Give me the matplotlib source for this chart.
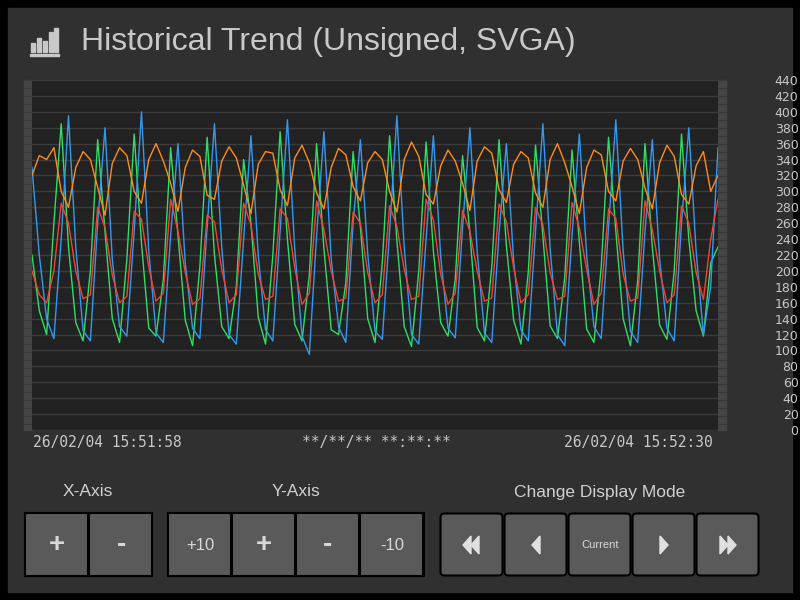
import matplotlib
matplotlib.use("Agg")
import matplotlib.pyplot as plt
from matplotlib.patches import Rectangle, FancyBboxPatch, Polygon

W, H = 800, 600

# trend samples, 5 per cycle, 19 cycles
green = [220, 150, 120, 260, 385, 230, 135, 112, 200, 365, 250, 140, 110, 215, 372,
         235, 128, 118, 190, 355, 245, 138, 106, 205, 368, 220, 130, 115, 180, 340,
         260, 142, 108, 220, 375, 240, 133, 112, 195, 360, 228, 126, 120, 185, 350,
         255, 140, 110, 210, 370, 238, 130, 105, 200, 362, 225, 135, 118, 190, 345,
         248, 129, 112, 205, 365, 232, 138, 108, 198, 358, 244, 131, 115, 192, 352,
         236, 127, 110, 205, 368, 250, 140, 106, 188, 360, 230, 132, 114, 200, 372,
         240, 150, 118, 210, 230]
blue = [330, 220, 140, 115, 240, 395, 230, 125, 112, 260, 380, 215, 130, 118, 250,
        400, 225, 122, 110, 245, 360, 210, 128, 115, 255, 385, 230, 120, 108, 240,
        370, 220, 126, 112, 250, 390, 228, 118, 95, 245, 375, 215, 130, 110, 260,
        365, 222, 124, 114, 250, 395, 230, 120, 108, 240, 370, 218, 128, 116, 255,
        380, 225, 122, 110, 248, 360, 212, 126, 112, 250, 385, 228, 120, 106, 245,
        372, 220, 130, 115, 255, 390, 226, 124, 110, 250, 365, 215, 128, 112, 260,
        380, 225, 120, 180, 355]
red = [200, 170, 160, 200, 285, 260, 200, 165, 170, 280, 255, 195, 160, 168, 275,
       265, 205, 162, 172, 290, 250, 198, 158, 165, 270, 262, 202, 160, 170, 285,
       258, 196, 164, 168, 278, 266, 204, 158, 172, 288, 252, 200, 162, 166, 274,
       260, 198, 160, 170, 282, 256, 202, 164, 168, 290, 264, 196, 158, 172, 276,
       250, 200, 162, 166, 284, 262, 204, 160, 170, 280, 258, 198, 164, 168, 286,
       254, 202, 158, 172, 278, 266, 196, 162, 166, 288, 252, 200, 160, 170, 282,
       260, 198, 164, 240, 290]
orange = [320, 345, 340, 355, 300, 280, 330, 350, 340, 305, 270, 335, 355, 345, 300,
          285, 340, 360, 338, 310, 275, 330, 352, 344, 295, 290, 338, 356, 342, 308,
          272, 334, 350, 348, 302, 282, 342, 358, 336, 298, 278, 330, 354, 346, 306,
          288, 336, 350, 340, 300, 274, 340, 362, 344, 296, 284, 332, 352, 338, 310,
          276, 338, 356, 348, 302, 286, 334, 350, 342, 298, 280, 340, 360, 336, 306,
          272, 330, 352, 346, 300, 288, 338, 354, 340, 304, 278, 336, 358, 344, 296,
          284, 332, 350, 300, 320]
series = [(green, "#30dd66"), (blue, "#3399ee"), (red, "#ee4433"), (orange, "#ff8c1a")]
yticks = list(range(0, 441, 20))
t_left, t_mid, t_right = "26/02/04 15:51:58", "**/**/** **:**:**", "26/02/04 15:52:30"

def fx(x): return x / W
def fy(y): return 1 - y / H

fig = plt.figure(figsize=(8, 6), dpi=100, facecolor="black")
bg = fig.add_axes([0, 0, 1, 1]); bg.set_xlim(0, W); bg.set_ylim(H, 0); bg.axis("off")
bg.add_patch(Rectangle((8, 8), 784, 584, color="#303030"))
# side strips
for x0 in (24, 718):
    bg.add_patch(Rectangle((x0, 80), 8, 350, color="#454545"))
    for yy in range(80, 431, 8):
        bg.plot([x0, x0 + 8], [yy, yy], color="#383838", lw=0.8)

# title + icon
for x0, h in [(31, 9), (37, 14), (43, 11), (49, 20), (54, 24)]:
    bg.add_patch(Rectangle((x0, 52 - h), 4, h, color="#c8c8c8"))
bg.add_patch(Rectangle((30, 54), 29, 2, color="#c8c8c8"))
fig.text(fx(81), fy(42), "Historical Trend (Unsigned, SVGA)", color="#c8c8c8",
         fontsize=23, va="center", family="Liberation Sans")

ax = fig.add_axes([fx(32), fy(430), fx(686), 350 / H])
ax.set_facecolor("#222222")
for v, c in series:
    ax.plot(range(len(v)), v, color=c, lw=1)
ax.set_xlim(0, len(green) - 1)
ax.set_ylim(0, 437)
ax.set_yticks(yticks)
ax.grid(axis="y", color="#3c3c3c", lw=1)
ax.set_axisbelow(True)
ax.set_xticks([])
ax.yaxis.tick_right()
ax.tick_params(axis="y", length=0, pad=58, labelsize=9, labelcolor="#c8c8c8")
for lab in ax.get_yticklabels():
    lab.set_ha("right")
for s in ax.spines.values():
    s.set_visible(False)

mono = dict(color="#c8c8c8", fontsize=10.5, family="DejaVu Sans Mono", va="center")
fig.text(fx(33), fy(442), t_left, ha="left", **mono)
fig.text(fx(376), fy(442), t_mid, ha="center", **mono)
fig.text(fx(713), fy(442), t_right, ha="right", **mono)

grp = dict(color="#d0d0d0", fontsize=12.5, ha="center", va="center", family="Liberation Sans")
fig.text(fx(88), fy(492), "X-Axis", **grp)
fig.text(fx(296), fy(492), "Y-Axis", **grp)
fig.text(fx(600), fy(492), "Change Display Mode", **grp)

def button(x0, label=None, size=15, rounded=False):
    if rounded:
        bg.add_patch(FancyBboxPatch((x0 + 2, 515), 59, 59, boxstyle="round,pad=1.5,rounding_size=4",
                                    fc="#5a5a5a", ec="black", lw=1.5))
    else:
        bg.add_patch(Rectangle((x0, 513), 63, 63, fc="#5a5a5a", ec="black", lw=1.5))
    if label:
        fig.text(fx(x0 + 32), fy(545), label, color="#d8d8d8", fontsize=size,
                 ha="center", va="center", family="Liberation Sans", weight="bold" if size > 14 else "normal")

bg.add_patch(Rectangle((24, 512), 129, 65, fc="black"))
button(25, "+", 20); button(89, "-", 20)
bg.add_patch(Rectangle((167, 512), 258, 65, fc="black"))
button(168, "+10", 12); button(232, "+", 20); button(296, "-", 20); button(360, "-10", 12)
for i, x0 in enumerate(range(440, 760, 64)):
    button(x0, "Current" if i == 2 else None, 8, rounded=True)

def tri(cx, left):
    d = -1 if left else 1
    bg.add_patch(Polygon([(cx - 4 * d, 536), (cx - 4 * d, 554), (cx + 4 * d, 545)], color="#e0e0e0"))
tri(467, True); tri(475, True); tri(536, True)
tri(664, False); tri(724, False); tri(732, False)

fig.savefig("out.png", dpi=100, facecolor="black")
